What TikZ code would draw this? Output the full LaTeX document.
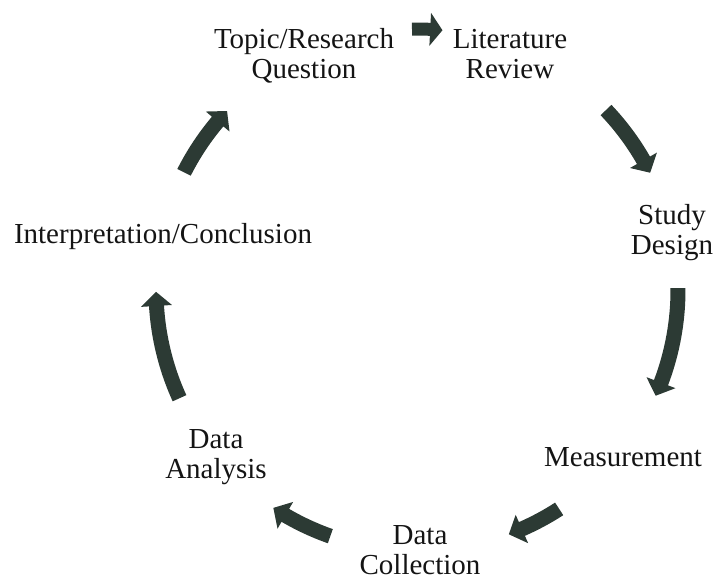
\documentclass[tikz,border=0pt]{standalone}
\usepackage{fontspec}
\setmainfont{Liberation Serif}
\usetikzlibrary{calc}
\definecolor{arrowcol}{RGB}{44,58,52}
\definecolor{txtcol}{RGB}{20,20,20}
\tikzset{
  lbl/.style={align=center, inner sep=0pt, text=txtcol, font=\fontsize{29}{30}\selectfont},
  arrowfill/.style={fill=arrowcol, draw=none}
}
% #1 start angle, #2 tip angle, #3 shaft half width, #4 head half width, #5 head angle
\newcommand\cyclearrow[5]{%
  \fill[arrowfill] ($(C)+({#1}:{261-#3})$)
    arc[start angle={#1}, end angle={#2-#5}, radius={261-#3}]
    -- ($(C)+({#2-#5}:{261-#4})$)
    -- ($(C)+({#2}:261)$)
    -- ($(C)+({#2-#5}:{261+#4})$)
    -- ($(C)+({#2-#5}:{261+#3})$)
    arc[start angle={#2-#5}, end angle={#1}, radius={261+#3}]
    -- cycle;}
\begin{document}
\begin{tikzpicture}[x=1pt,y=-1pt]
\useasboundingbox (0,0) rectangle (714,580);
\coordinate (C) at (417,290);
\node[lbl] (topic) at (304,56) {Topic/Research\\Question};
\node[lbl] (lit) at (510,54) {Literature\\Review};
\node[lbl] (design) at (672,233) {Study\\Design};
\node[lbl] (meas) at (623,457) {Measurement};
\node[lbl] (coll) at (420,550) {Data\\Collection};
\node[lbl] (anal) at (216,457) {Data\\Analysis};
\node[lbl] (interp) at (163,237) {Interpretation/Conclusion};
\cyclearrow{268.9}{275.6}{6.5}{16.5}{2.7}
\cyclearrow{316.4}{333.3}{7.5}{15.5}{3.1}
\cyclearrow{359.6}{23.9+360}{7.5}{15.5}{3.1}
\cyclearrow{57}{69.4}{7.5}{15.5}{3.1}
\cyclearrow{109.4}{123.4}{7.5}{15.5}{3.1}
\cyclearrow{155.5}{179.6}{7.5}{15.5}{3.1}
\cyclearrow{206.8}{223.3}{7.5}{15.5}{3.1}
\end{tikzpicture}
\end{document}
